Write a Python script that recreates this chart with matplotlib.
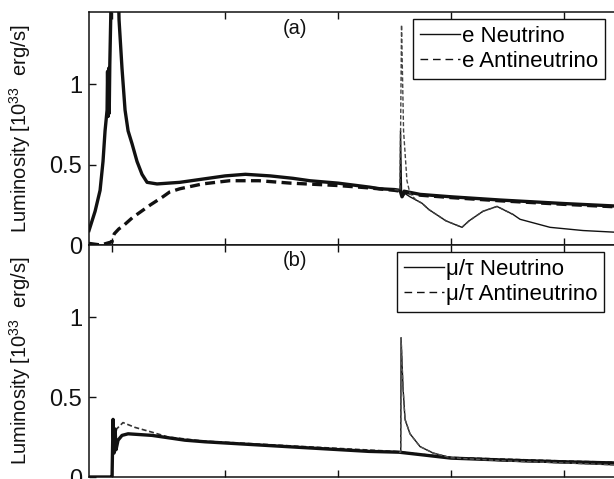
import matplotlib
matplotlib.use('Agg')
import matplotlib.pyplot as plt
from matplotlib.lines import Line2D

plt.rcParams['font.family'] = ['Liberation Sans', 'DejaVu Sans']
plt.rcParams['mathtext.fontset'] = 'custom'
plt.rcParams['mathtext.rm'] = 'Liberation Sans'
plt.rcParams['mathtext.it'] = 'Liberation Sans:italic'

## (a) electron flavour
e_nu_t = [-0.0204, -0.0150, -0.0106, -0.0080, -0.0062, -0.0044, -0.0040, -0.0035, -0.0030,
          -0.0025, -0.0020, -0.0012, 0.0, 0.002, 0.0045, 0.0062, 0.0088, 0.0115, 0.0142,
          0.0177, 0.0221, 0.0265, 0.0310, 0.0398, 0.060, 0.080, 0.100, 0.118, 0.140,
          0.160, 0.175, 0.200, 0.228, 0.237, 0.250, 0.2549, 0.2566, 0.2584, 0.2726,
          0.300, 0.3434, 0.400, 0.4442, 0.500]
e_nu_L = [0.09, 0.21, 0.34, 0.52, 0.71, 0.84, 1.08, 0.80, 1.10,
          0.82, 1.12, 1.40, 1.90, 2.10, 1.90, 1.40, 1.10, 0.84, 0.71,
          0.63, 0.52, 0.44, 0.39, 0.38, 0.39, 0.41, 0.43, 0.44, 0.43,
          0.415, 0.40, 0.385, 0.36, 0.35, 0.345, 0.34, 0.30, 0.335, 0.315,
          0.30, 0.28, 0.258, 0.243, 0.225]

e_anu_t = [-0.0204, -0.010, 0.0, 0.0009, 0.002, 0.006, 0.010, 0.018, 0.026, 0.034,
           0.045, 0.051, 0.060, 0.080, 0.104, 0.130, 0.158, 0.200, 0.228, 0.250,
           0.2549, 0.2726, 0.300, 0.3434, 0.400, 0.4442, 0.500]
e_anu_L = [0.01, 0.0, 0.02, 0.05, 0.07, 0.10, 0.12, 0.17, 0.21, 0.25,
           0.30, 0.33, 0.35, 0.38, 0.40, 0.40, 0.385, 0.37, 0.355, 0.34,
           0.335, 0.31, 0.295, 0.275, 0.253, 0.238, 0.22]

# second run, diverging after the late burst
e_nu2_t = [0.250, 0.2549, 0.2553, 0.2562, 0.2575, 0.2593, 0.2637, 0.2690, 0.2743,
           0.2805, 0.2956, 0.3097, 0.3159, 0.3283, 0.3407, 0.3549, 0.3611, 0.3876,
           0.4168, 0.4442, 0.500]
e_nu2_L = [0.345, 0.34, 0.71, 0.33, 0.30, 0.32, 0.30, 0.28, 0.26,
           0.22, 0.15, 0.11, 0.15, 0.21, 0.24, 0.19, 0.16, 0.11,
           0.09, 0.08, 0.075]
e_anu2_t = [0.250, 0.2549, 0.2562, 0.2580, 0.2610, 0.2637, 0.2690, 0.2743, 0.2805,
            0.2956, 0.3097, 0.3159, 0.3283, 0.3407, 0.3549]
e_anu2_L = [0.345, 0.34, 1.37, 0.71, 0.40, 0.32, 0.28, 0.26, 0.22,
            0.15, 0.11, 0.15, 0.21, 0.24, 0.19]

## (b) mu/tau flavour
mu_nu_t = [-0.0204, -0.002, 0.0, 0.0009, 0.0018, 0.0027, 0.0035, 0.0053, 0.0088,
           0.0142, 0.0354, 0.0646, 0.0823, 0.1664, 0.2274, 0.2540, 0.300, 0.350,
           0.400, 0.4442, 0.500]
mu_nu_L = [0.0, 0.0, 0.0, 0.36, 0.15, 0.30, 0.17, 0.23, 0.26,
           0.27, 0.26, 0.23, 0.22, 0.185, 0.16, 0.155, 0.118, 0.105,
           0.095, 0.088, 0.078]
mu_anu_t = [-0.0204, -0.002, 0.0, 0.0009, 0.0018, 0.0040, 0.0097, 0.0203, 0.0354,
            0.0496, 0.080, 0.170, 0.250, 0.300, 0.400, 0.4442, 0.500]
mu_anu_L = [0.0, 0.0, 0.0, 0.37, 0.18, 0.30, 0.34, 0.31, 0.28,
            0.25, 0.225, 0.19, 0.16, 0.122, 0.10, 0.092, 0.082]
mu2_t = [0.2540, 0.2555, 0.2558, 0.2575, 0.2593, 0.2637, 0.2726, 0.2841, 0.300,
         0.350, 0.400, 0.4442, 0.500]
mu2_L = [0.155, 0.155, 0.87, 0.56, 0.36, 0.27, 0.19, 0.15, 0.12,
         0.10, 0.088, 0.076, 0.07]

W, H = 614, 479
fs = 17.
x0, x1 = 89, 677          # left spine, right spine (off the canvas)
fig = plt.figure(figsize=(W/100., H/100.), dpi=100)
ax_a = fig.add_axes([x0/W, 1-245/H, (x1-x0)/W, (245-12)/H])
ax_b = fig.add_axes([x0/W, 1-477/H, (x1-x0)/W, (477-245)/H], sharex=ax_a)

k = '#111111'
dsh = (0, (3, 1.6))
ax_a.plot(e_nu_t, e_nu_L, color=k, lw=2.4, solid_joinstyle='round')
ax_a.plot(e_anu_t, e_anu_L, color=k, lw=2.4, ls=dsh)
ax_a.plot(e_nu2_t, e_nu2_L, color=k, lw=1.0)
ax_a.plot(e_anu2_t, e_anu2_L, color='#444444', lw=1.0, ls=dsh)

ax_b.plot(mu_anu_t, mu_anu_L, color='#333333', lw=1.2, ls=dsh)
ax_b.plot(mu_nu_t, mu_nu_L, color=k, lw=2.4)
ax_b.plot(mu2_t, mu2_L, color=k, lw=1.0)
ax_b.plot(mu2_t, mu2_L, color='#555555', lw=1.0, ls=dsh)

for ax, tag, names, leg_xy in [(ax_a, '(a)', ['e Neutrino', 'e Antineutrino'], (413, 19)),
                               (ax_b, '(b)', ['\u03bc/\u03c4 Neutrino', '\u03bc/\u03c4 Antineutrino'], (397, 252))]:
    ax.set_xlim(-0.0204, 0.5)
    ax.set_ylim(0, 1.45)
    ax.set_xticks([0, 0.1, 0.2, 0.3, 0.4, 0.5])
    ax.set_yticks([0, 0.5, 1])
    ax.set_yticklabels(['0', '0.5', '1'])
    ax.tick_params(direction='in', length=5, width=1, top=True, right=True,
                   labelsize=fs, pad=5, colors=k, labelbottom=False)
    for s in ax.spines.values():
        s.set_linewidth(1.1)
        s.set_color(k)
    ax.set_ylabel('Luminosity [10$^{33}$  erg/s]', fontsize=14.5, color=k)
    ax.yaxis.set_label_coords((33-x0)/(x1-x0), 0.5)
    ax.text((295-x0)/(x1-x0), 0.93 if tag == '(a)' else 0.935, tag, transform=ax.transAxes,
            ha='center', va='center', fontsize=14.5, color=k)
    hnd = [Line2D([], [], color=k, lw=1.0),
           Line2D([], [], color=k, lw=1.0, ls=(0, (5.5, 3.5)))]
    lg = ax.legend(hnd, names, loc='upper left', bbox_to_anchor=(leg_xy[0]/W, 1-leg_xy[1]/H),
                   bbox_transform=fig.transFigure, borderaxespad=0, fontsize=16,
                   handlelength=1.8, handletextpad=0.1, labelspacing=0.2,
                   borderpad=0.3, fancybox=False, framealpha=1)
    lg.get_frame().set_edgecolor(k)
    lg.get_frame().set_linewidth(1.0)

fig.savefig('out.png', dpi=100)
plt.close(fig)
